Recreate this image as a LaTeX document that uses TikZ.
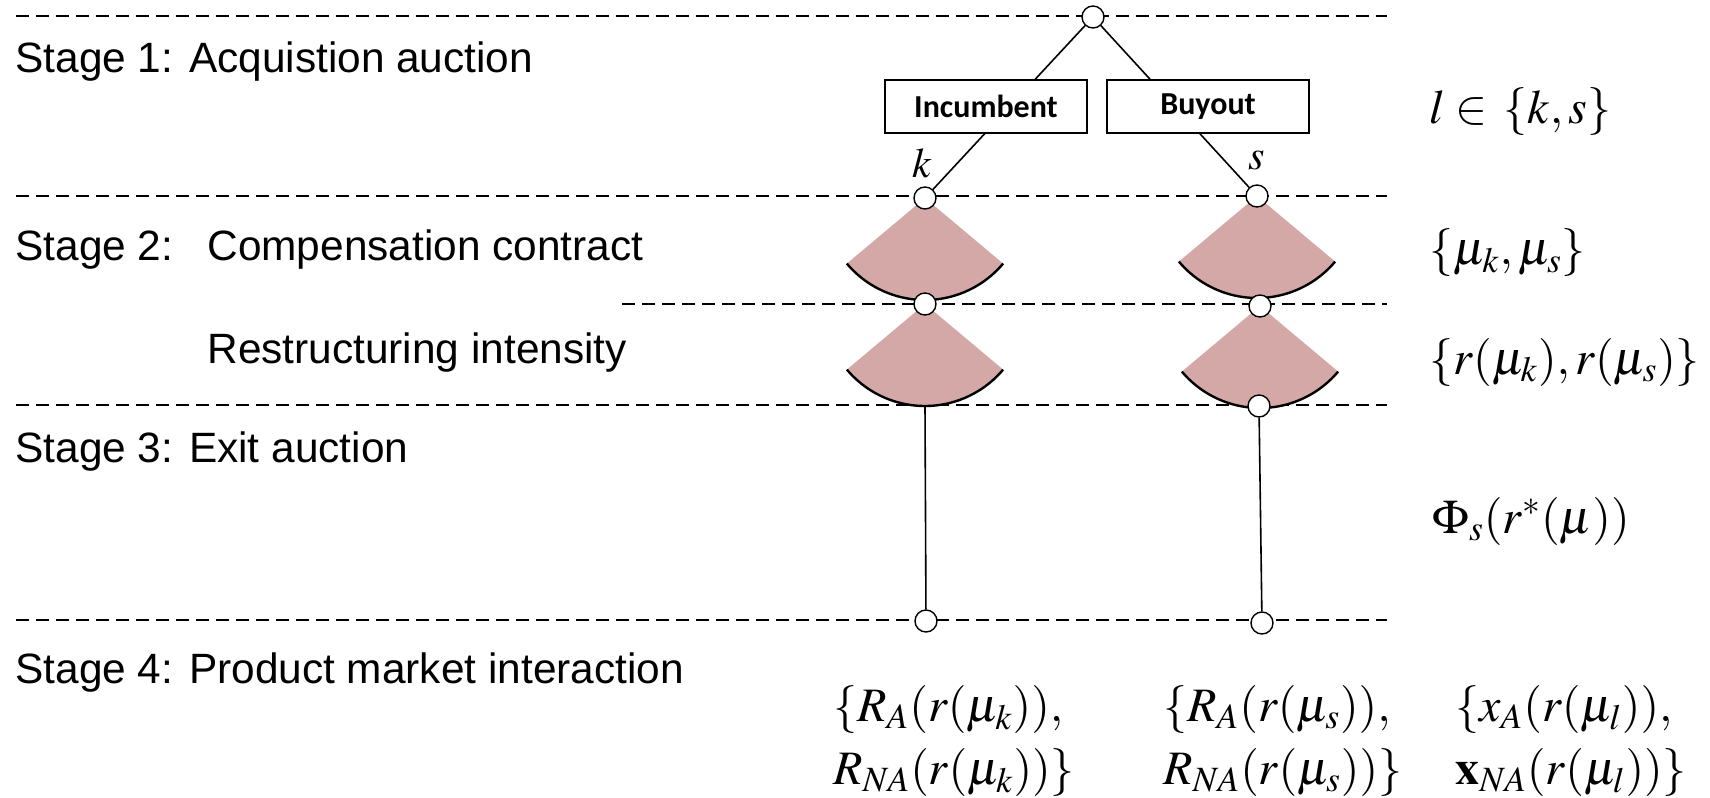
\documentclass[tikz,border=0pt]{standalone}
\usepackage{mathptmx}
\usepackage[no-math]{fontspec}
\setmainfont{Liberation Sans}
\newfontfamily\boxfont{Carlito}
\usepackage{tikz}
\usetikzlibrary{backgrounds}
\definecolor{fanpink}{RGB}{213,168,168}
\tikzstyle{stagetext} = [anchor=base west, inner sep=0pt, font=\fontsize{21.2}{26}\selectfont]
\tikzstyle{mathlabel} = [anchor=west, inner sep=0pt, font=\fontsize{24}{29}\selectfont]
\tikzstyle{payoff} = [anchor=west, inner sep=0pt, align=left, font=\fontsize{24}{31.5}\selectfont]
\tikzstyle{edgelabel} = [inner sep=0pt, font=\fontsize{21}{25}\selectfont]
\tikzstyle{stageline} = [dash pattern=on 6.5pt off 3.5pt, line width=1pt]
\tikzstyle{decnode} = [circle, draw, fill=white, line width=0.7pt, minimum size=11pt, inner sep=0pt]
\tikzstyle{firmbox} = [rectangle, draw, fill=white, line width=0.7pt, minimum width=101pt, minimum height=26.5pt, font=\boxfont\bfseries\fontsize{16}{19}\selectfont]
\tikzstyle{branch} = [line width=0.8pt]
\tikzstyle{fanrim} = [line width=1.2pt]

\begin{document}
\begin{tikzpicture}[x=0.5pt, y=0.5pt]
    \useasboundingbox (0,0) rectangle (1710,-798);

    % decision nodes
    \node (root) [decnode] at (1093,-17) {};
    \node (node-k1) [decnode] at (925,-198) {};
    \node (node-s1) [decnode] at (1257,-196) {};
    \node (node-k2) [decnode] at (925,-304) {};
    \node (node-s2) [decnode] at (1260,-306) {};
    \coordinate (node-k3) at (925,-405);
    \node (node-s3) [decnode] at (1259,-406) {};
    \node (node-k4) [decnode] at (926,-621) {};
    \node (node-s4) [decnode] at (1262,-623) {};

    \begin{scope}[on background layer]
        \draw [stageline] (16,-16) -- (1387,-16);
        \draw [stageline] (16,-196) -- (1387,-196);
        \draw [stageline] (622,-304) -- (1387,-304);
        \draw [stageline] (16,-405) -- (1387,-405);
        \draw [stageline] (16,-620) -- (1387,-620);
        \foreach \apex in {node-k1,node-k2,node-s1,node-s2}{
            \fill [fanpink] (\apex.center) -- ++(-140:51pt) arc[start angle=-140, end angle=-40, radius=51pt] -- cycle;
            \draw [fanrim] (\apex.center) ++(-140:51pt) arc[start angle=-140, end angle=-40, radius=51pt];
        }
    \end{scope}

    \draw [branch] (root) -- (node-k1);
    \draw [branch] (root) -- (node-s1);
    \draw [branch] (node-k3) -- (node-k4);
    \draw [branch] (node-s3) -- (node-s4);

    \node (incumbent) [firmbox] at (986,-106.5) {Incumbent};
    \node (buyout) [firmbox] at (1208,-106.5) {Buyout};
    \node (label-k) [edgelabel] at (922,-163) {$k$};
    \node (label-s) [edgelabel] at (1257,-160) {$s$};

    % stages
    \node (stage-one) [stagetext] at (15,-72) {Stage 1: Acquistion auction};
    \node (stage-two) [stagetext] at (15,-260) {Stage 2:};
    \node (compensation) [stagetext] at (207,-260) {Compensation contract};
    \node (restructuring) [stagetext] at (207,-363) {Restructuring intensity};
    \node (stage-three) [stagetext] at (15,-462) {Stage 3: Exit auction};
    \node (stage-four) [stagetext] at (15,-683) {Stage 4: Product market interaction};

    % right column
    \node (choice-set) [mathlabel] at (1429,-112) {$l \in\,\{k,s\}$};
    \node (mu-set) [mathlabel] at (1429,-253) {$\{\mu_k,\mu_s\}$};
    \node (r-set) [mathlabel] at (1429,-362) {$\{r(\mu_k),r(\mu_s)\}$};
    \node (exit-value) [mathlabel] at (1432,-521) {$\Phi_s(r^*(\mu))$};

    % payoffs
    \node (payoff-k) [payoff] at (833,-741) {$\{R_A(r(\mu_k)),$\\$R_{NA}(r(\mu_k))\}$};
    \node (payoff-s) [payoff] at (1163,-741) {$\{R_A(r(\mu_s)),$\\$R_{NA}(r(\mu_s))\}$};
    \node (payoff-l) [payoff] at (1455,-741) {$\{x_A(r(\mu_l)),$\\$\mathbf{x}_{NA}(r(\mu_l))\}$};
\end{tikzpicture}
\end{document}
